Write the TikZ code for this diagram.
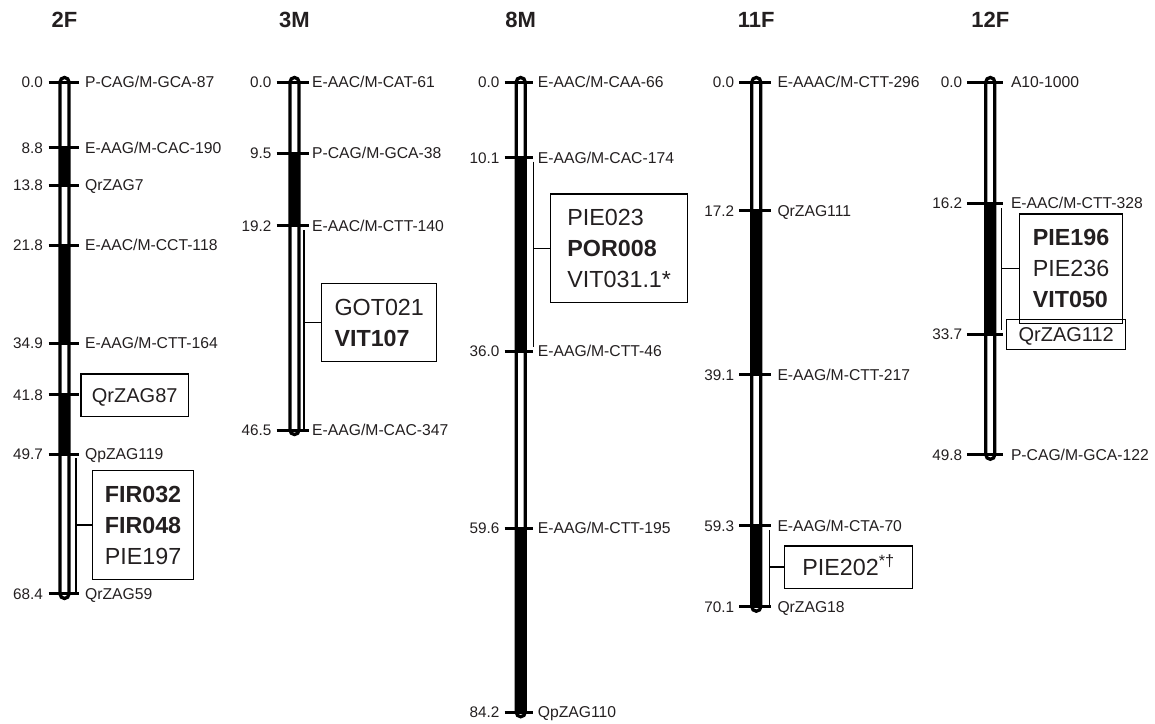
\documentclass[tikz,border=0pt]{standalone}
\usepackage{fontspec}
\setmainfont{Liberation Sans}
\definecolor{ink}{RGB}{35,31,32}
\newcommand\Ypos[1]{82+7.485*#1}
\tikzset{
  head/.style={font=\fontsize{22}{26}\selectfont\bfseries, text=ink, inner sep=0pt, anchor=base},
  numlbl/.style={font=\fontsize{15.3}{18}\selectfont, text=ink, inner sep=0pt, anchor=base east},
  mklbl/.style={font=\fontsize{15.7}{18}\selectfont, text=ink, inner sep=0pt, anchor=base west},
  barline/.style={draw=black, line width=3.3pt, rounded corners=4.5pt},
  tickline/.style={draw=black, line width=3pt},
  bracket/.style={draw=black, line width=1.3pt},
  bigbox/.style={draw=black, line width=1.3pt, font=\fontsize{23.3}{31}\selectfont, text=ink, align=left, inner sep=0pt},
  qbox/.style={draw=black, line width=1.3pt, font=\fontsize{20}{24}\selectfont, text=ink, inner sep=0pt, text height=14.3pt, text depth=0pt},
}
\begin{document}
\begin{tikzpicture}[x=1pt,y=-1pt]
\useasboundingbox (0,0) rectangle (1155,723);

% ---------------- 2F ----------------
\begin{scope}[shift={(64.5,0)}]
  \node[head] (h2F) at (0,27.9) {2F};
  \fill[white] (-4.5,{\Ypos{0}-4.5}) [rounded corners=4.5pt] rectangle (4.5,{\Ypos{68.4}+4.5});
  \foreach \a/\b in {8.8/13.8,21.8/34.9,41.8/49.7}
    \fill[black] (-4.5,{\Ypos{\a}}) rectangle (4.5,{\Ypos{\b}});
  \draw[barline] (-4.5,{\Ypos{0}-4.5}) rectangle (4.5,{\Ypos{68.4}+4.5});
  \foreach \p/\m [count=\i] in {0.0/{P-CAG/M-GCA-87},8.8/{E-AAG/M-CAC-190},13.8/{QrZAG7},21.8/{E-AAC/M-CCT-118},34.9/{E-AAG/M-CTT-164},41.8/{},49.7/{QpZAG119},68.4/{QrZAG59}}{
    \draw[tickline] (-16,{\Ypos{\p}}) -- (14,{\Ypos{\p}});
    \node[numlbl] (a2F\i) at (-21.5,{\Ypos{\p}+5.4}) {\p};
    \node[mklbl] (b2F\i) at (20.5,{\Ypos{\p}+5.4}) {\m};
  }
\end{scope}
\node[qbox, minimum width=107.3, minimum height=42.7] (q87) at (134.7,395.3) {QrZAG87};
\node[bigbox, minimum width=100.6, minimum height=108.6] (box2F) at (143,525)
  {\textbf{FIR032}\\\textbf{FIR048}\\PIE197};
\coordinate (t2F) at (76,458);
\coordinate (e2F) at (76,593);
\draw[bracket] (t2F) -- (e2F);
\draw[bracket] (t2F |- box2F.west) -- (box2F.west);

% ---------------- 3M ----------------
\begin{scope}[shift={(294.5,0)}]
  \node[head] (h3M) at (0,27.9) {3M};
  \fill[white] (-4.5,{\Ypos{0}-4.5}) [rounded corners=4.5pt] rectangle (4.5,{\Ypos{46.5}+4.5});
  \fill[black] (-4.5,{\Ypos{9.5}}) rectangle (4.5,{\Ypos{19.2}});
  \draw[barline] (-4.5,{\Ypos{0}-4.5}) rectangle (4.5,{\Ypos{46.5}+4.5});
  \foreach \p/\m [count=\i] in {0.0/{E-AAC/M-CAT-61},9.5/{P-CAG/M-GCA-38},19.2/{E-AAC/M-CTT-140},46.5/{E-AAG/M-CAC-347}}{
    \draw[tickline] (-18,{\Ypos{\p}}) -- (14,{\Ypos{\p}});
    \node[numlbl] (a3M\i) at (-23,{\Ypos{\p}+5.4}) {\p};
    \node[mklbl] (b3M\i) at (17.5,{\Ypos{\p}+5.4}) {\m};
  }
\end{scope}
\node[bigbox, minimum width=115, minimum height=78.4] (box3M) at (379.2,322.5)
  {GOT021\\\textbf{VIT107}};
\coordinate (t3M) at (304,230);
\coordinate (e3M) at (304,430);
\draw[bracket] (t3M) -- (e3M);
\draw[bracket] (t3M |- box3M.west) -- (box3M.west);

% ---------------- 8M ----------------
\begin{scope}[shift={(520.7,0)}]
  \node[head] (h8M) at (0,27.9) {8M};
  \fill[white] (-4.5,{\Ypos{0}-4.5}) [rounded corners=4.5pt] rectangle (4.5,{\Ypos{84.2}+4.5});
  \foreach \a/\b in {10.1/36.0,59.6/84.2}
    \fill[black] (-4.5,{\Ypos{\a}}) rectangle (4.5,{\Ypos{\b}});
  \draw[barline] (-4.5,{\Ypos{0}-4.5}) rectangle (4.5,{\Ypos{84.2}+4.5});
  \foreach \p/\m [count=\i] in {0.0/{E-AAC/M-CAA-66},10.1/{E-AAG/M-CAC-174},36.0/{E-AAG/M-CTT-46},59.6/{E-AAG/M-CTT-195},84.2/{QpZAG110}}{
    \draw[tickline] (-16,{\Ypos{\p}}) -- (12.6,{\Ypos{\p}});
    \node[numlbl] (a8M\i) at (-21,{\Ypos{\p}+5.4}) {\p};
    \node[mklbl] (b8M\i) at (17,{\Ypos{\p}+5.4}) {\m};
  }
\end{scope}
\node[bigbox, minimum width=137, minimum height=108.3] (box8M) at (619.2,248.2)
  {PIE023\\\textbf{POR008}\\VIT031.1*};
\coordinate (t8M) at (533.3,161.7);
\coordinate (e8M) at (533.3,346.7);
\draw[bracket] (t8M) -- (e8M);
\draw[bracket] (t8M |- box8M.west) -- (box8M.west);

% ---------------- 11F ----------------
\begin{scope}[shift={(756.3,0)}]
  \node[head] (h11F) at (0,27.9) {11F};
  \fill[white] (-4.5,{\Ypos{0}-4.5}) [rounded corners=4.5pt] rectangle (4.5,{\Ypos{70.1}+4.5});
  \foreach \a/\b in {17.2/39.1,59.3/70.1}
    \fill[black] (-4.5,{\Ypos{\a}}) rectangle (4.5,{\Ypos{\b}});
  \draw[barline] (-4.5,{\Ypos{0}-4.5}) rectangle (4.5,{\Ypos{70.1}+4.5});
  \foreach \p/\m [count=\i] in {0.0/{E-AAAC/M-CTT-296},17.2/{QrZAG111},39.1/{E-AAG/M-CTT-217},59.3/{E-AAG/M-CTA-70},70.1/{QrZAG18}}{
    \draw[tickline] (-17,{\Ypos{\p}}) -- (14.4,{\Ypos{\p}});
    \node[numlbl] (a11F\i) at (-22,{\Ypos{\p}+5.4}) {\p};
    \node[mklbl] (b11F\i) at (21,{\Ypos{\p}+5.4}) {\m};
  }
\end{scope}
\node[bigbox, minimum width=128.4, minimum height=42.3, text height=16.7pt, text depth=0pt] (box11F) at (848.5,567)
  {PIE202\textsuperscript{*†}};
\coordinate (t11F) at (769.3,530);
\coordinate (e11F) at (769.3,605);
\draw[bracket] (t11F) -- (e11F);
\draw[bracket] (t11F |- box11F.west) -- (box11F.west);

% ---------------- 12F ----------------
\begin{scope}[shift={(990.3,0)}]
  \node[head] (h12F) at (0,27.9) {12F};
  \fill[white] (-4.5,{\Ypos{0}-4.5}) [rounded corners=4.5pt] rectangle (4.5,{\Ypos{49.8}+4.5});
  \fill[black] (-4.5,{\Ypos{16.2}}) rectangle (4.5,{\Ypos{33.7}});
  \draw[barline] (-4.5,{\Ypos{0}-4.5}) rectangle (4.5,{\Ypos{49.8}+4.5});
  \foreach \p/\m [count=\i] in {0.0/{A10-1000},16.2/{E-AAC/M-CTT-328},33.7/{},49.8/{P-CAG/M-GCA-122}}{
    \draw[tickline] (-23.5,{\Ypos{\p}}) -- (13,{\Ypos{\p}});
    \node[numlbl] (a12F\i) at (-28,{\Ypos{\p}+5.4}) {\p};
    \node[mklbl] (b12F\i) at (20.5,{\Ypos{\p}+5.4}) {\m};
  }
\end{scope}
\node[bigbox, minimum width=103.4, minimum height=109.3] (box12F) at (1071,268.7)
  {\textbf{PIE196}\\PIE236\\\textbf{VIT050}};
\node[qbox, minimum width=119, minimum height=29.4] (q112) at (1066.2,334.5) {QrZAG112};
\coordinate (t12F) at (1001.7,208);
\coordinate (e12F) at (1001.7,330);
\draw[bracket] (t12F) -- (e12F);
\draw[bracket] (t12F |- box12F.west) -- (box12F.west);
\end{tikzpicture}
\end{document}
